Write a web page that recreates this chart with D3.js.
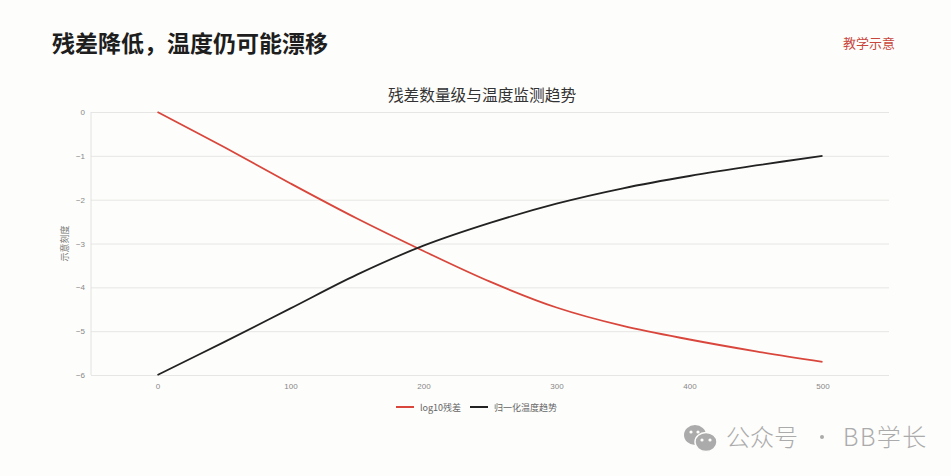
<!DOCTYPE html>
<html>
<head>
<meta charset="utf-8">
<script src="https://cdn.jsdelivr.net/npm/d3@7"></script>
<style>
  body { margin: 0; background: #fdfdfb; }
  svg { display: block; font-family: "Noto Sans CJK SC", "Noto Sans", sans-serif; }
</style>
</head>
<body>
<svg id="chart" width="951" height="476"></svg>
<script>
// x positions (iterations) shared by both series
const steps = [0, 50, 100, 150, 200, 250, 300, 350, 400, 450, 500];
// log10 residual
const residual = [0, -0.8, -1.63, -2.43, -3.17, -3.87, -4.46, -4.88, -5.19, -5.46, -5.7];
// normalised temperature trend
const tempTrend = [-6, -5.25, -4.48, -3.71, -3.05, -2.53, -2.09, -1.74, -1.46, -1.22, -1.0];
const xTicks = [0, 100, 200, 300, 400, 500];
const yTicks = [0, -1, -2, -3, -4, -5, -6];

const series = [
  { name: 'log10残差', values: residual, color: '#d9463b' },
  { name: '归一化温度趋势', values: tempTrend, color: '#222222' },
];

const svg = d3.select('#chart');
const margin = { top: 112, right: 62, bottom: 101, left: 91 };
const width = 951, height = 476;
const innerW = width - margin.left - margin.right;
const innerH = height - margin.top - margin.bottom;

// headings
svg.append('text')
  .attr('x', 52).attr('y', 52)
  .attr('font-size', 23).attr('font-weight', 700)
  .attr('fill', '#1e1e1e')
  .text('残差降低，温度仍可能漂移');

svg.append('text')
  .attr('x', 895).attr('y', 48)
  .attr('text-anchor', 'end')
  .attr('font-size', 13).attr('fill', '#c8453c')
  .text('教学示意');

svg.append('text')
  .attr('x', 482).attr('y', 101)
  .attr('text-anchor', 'middle')
  .attr('font-size', 15.7).attr('fill', '#333')
  .text('残差数量级与温度监测趋势');

const g = svg.append('g').attr('transform', `translate(${margin.left},${margin.top})`);

const x = d3.scaleLinear().domain([-50, 550]).range([0, innerW]);
const y = d3.scaleLinear().domain([-6, 0]).range([innerH, 0]);

// grid lines
g.append('g')
  .call(d3.axisLeft(y).tickValues(yTicks).tickSize(-innerW).tickFormat(''))
  .call(a => a.select('.domain').remove())
  .selectAll('line').attr('stroke', '#e6e6e4').attr('stroke-width', 1);

// left axis line
g.append('line')
  .attr('x1', 0).attr('x2', 0).attr('y1', 0).attr('y2', innerH)
  .attr('stroke', '#e2e2e0');

// y tick labels
g.append('g')
  .call(d3.axisLeft(y).tickValues(yTicks).tickSize(0).tickPadding(6).tickFormat(d3.format('d')))
  .call(a => a.select('.domain').remove())
  .selectAll('text').attr('font-size', 8).attr('fill', '#888');

// x tick labels
g.append('g')
  .attr('transform', `translate(0,${innerH})`)
  .call(d3.axisBottom(x).tickValues(xTicks).tickSize(0).tickPadding(8).tickFormat(d3.format('d')))
  .call(a => a.select('.domain').remove())
  .selectAll('text').attr('font-size', 8).attr('fill', '#888');

// y axis title
svg.append('text')
  .attr('transform', `translate(68,${margin.top + innerH / 2}) rotate(-90)`)
  .attr('text-anchor', 'middle')
  .attr('font-size', 9).attr('fill', '#777')
  .text('示意刻度');

// lines
const line = d3.line()
  .x((d, i) => x(steps[i]))
  .y(d => y(d))
  .curve(d3.curveCatmullRom.alpha(0.5));

series.forEach(s => {
  g.append('path')
    .datum(s.values)
    .attr('fill', 'none')
    .attr('stroke', s.color)
    .attr('stroke-width', 1.8)
    .attr('d', line);
});

// legend
const legend = svg.append('g').attr('transform', 'translate(396,407)');
const legendX = [0, 74];
series.forEach((s, i) => {
  legend.append('line')
    .attr('x1', legendX[i]).attr('x2', legendX[i] + 18)
    .attr('y1', 0).attr('y2', 0)
    .attr('stroke', s.color).attr('stroke-width', 2);
  legend.append('text')
    .attr('x', legendX[i] + 24).attr('y', 3.5)
    .attr('font-size', 9).attr('fill', '#666')
    .text(s.name);
});

// watermark
const wm = svg.append('g').attr('transform', 'translate(683,424)');
wm.append('ellipse').attr('cx', 12).attr('cy', 11).attr('rx', 11).attr('ry', 10).attr('fill', '#ababab');
wm.append('ellipse').attr('cx', 23).attr('cy', 18).attr('rx', 11).attr('ry', 9.5)
  .attr('fill', '#ababab').attr('stroke', '#fdfdfb').attr('stroke-width', 1.5);
[[8, 8], [15, 8], [19, 16], [27, 16]].forEach(([cx, cy]) => {
  wm.append('circle').attr('cx', cx).attr('cy', cy).attr('r', 1.6).attr('fill', '#fdfdfb');
});
svg.append('text')
  .attr('x', 726).attr('y', 446)
  .attr('font-size', 24).attr('font-weight', 300).attr('fill', '#ababab')
  .text('公众号');
svg.append('circle').attr('cx', 822).attr('cy', 437).attr('r', 2).attr('fill', '#ababab');
svg.append('text')
  .attr('x', 843).attr('y', 446)
  .attr('font-size', 24).attr('font-weight', 300).attr('fill', '#ababab')
  .attr('letter-spacing', 1.5)
  .text('BB学长');
</script>
</body>
</html>
